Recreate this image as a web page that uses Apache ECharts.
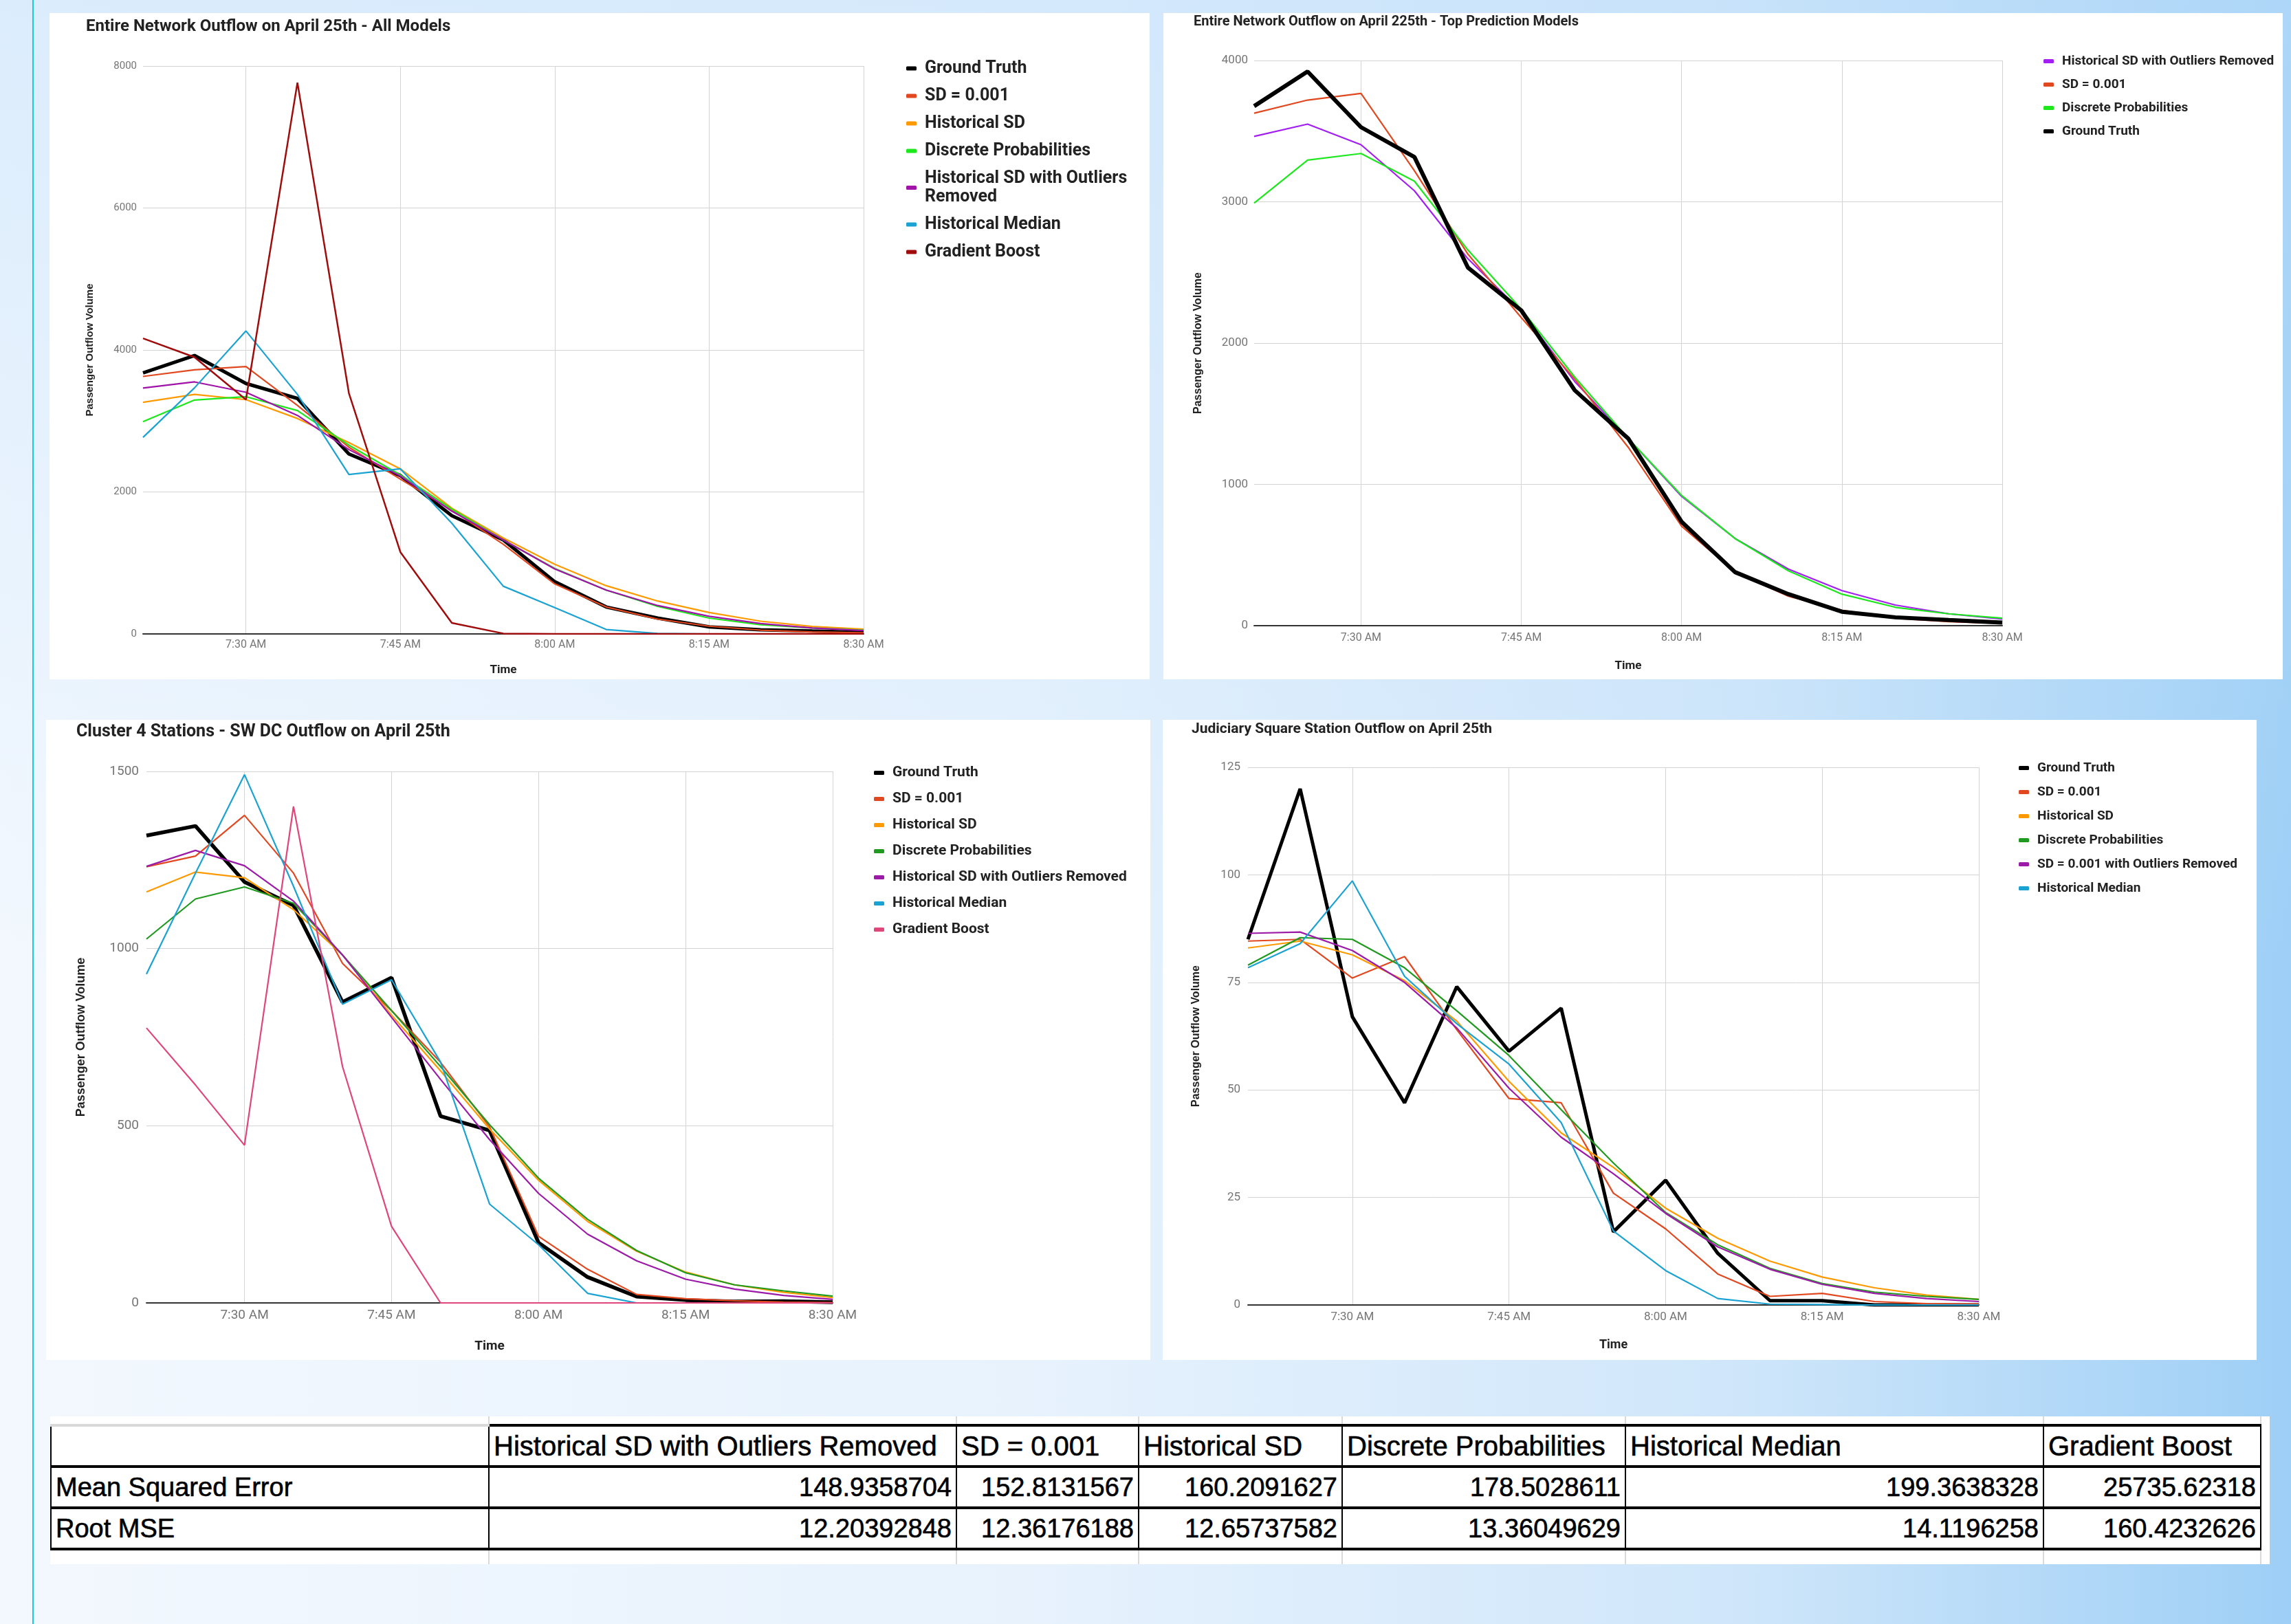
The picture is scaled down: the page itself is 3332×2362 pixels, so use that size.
<!DOCTYPE html>
<html>
<head>
<meta charset="utf-8">
<title>Outflow predictions - April 25th</title>
<script src="https://cdn.jsdelivr.net/npm/echarts@6/dist/echarts.min.js"></script>
<style>
  html, body { margin: 0; padding: 0; }
  body {
    width: 3332px; height: 2362px; overflow: hidden; position: relative;
    background-image:
      linear-gradient(180deg, rgba(190,222,250,0.45) 0%, rgba(190,222,250,0) 60%),
      linear-gradient(90deg, #f3f8fe 0%, #e7f2fd 45%, #cfe6fa 76%, #9ecff6 100%);
  }
  .edge { position: absolute; left: 47px; top: 0; width: 2px; height: 2362px; background: #19ccd9; }
  .panel { position: absolute; background: #fff; }
  #c1 { left: 72px; top: 19px; width: 1600px; height: 969px; }
  #c2 { left: 1692px; top: 19px; width: 1628px; height: 969px; }
  #c3 { left: 67px; top: 1047px; width: 1606px; height: 931px; }
  #c4 { left: 1691px; top: 1047px; width: 1591px; height: 931px; }
  #tbl {
    position: absolute; left: 73px; top: 2060px; width: 3227px;
    border-collapse: collapse; table-layout: fixed; background: #fff;
    font-family: "Liberation Sans", Arial, sans-serif; color: #000;
    -webkit-text-stroke: 0.6px #000;
  }
  #tbl td { padding: 0 6px; white-space: nowrap; overflow: hidden; }
  #tbl tr.sp td { height: 11px; border-right: 2px solid #d9d9d9; }
  #tbl tr.sp2 td { height: 20px; border-right: 2px solid #d9d9d9; }
  #tbl tr.hd td { height: 56px; font-size: 40px; border: 2px solid #000; border-top: 4px solid #000; border-bottom: 4px solid #000; }
  #tbl tr.hd td.first { border-top: 4px solid #d9d9d9; }
  #tbl tr.rw td { height: 56px; font-size: 38px; border: 2px solid #000; border-bottom: 4px solid #000; text-align: right; }
  #tbl tr.rw td.first { text-align: left; }
  #tbl td.blank { border: none !important; border-left: 2px solid #000 !important; }
  #tbl tr.sp td.blank, #tbl tr.sp2 td.blank { border-left: none !important; }
</style>
</head>
<body>
<div class="edge"></div>
<div id="c1" class="panel"></div>
<div id="c2" class="panel"></div>
<div id="c3" class="panel"></div>
<div id="c4" class="panel"></div>
<table id="tbl"></table>

<script>
// time axis, 5 minute steps
var times = ['7:20 AM', '7:25 AM', '7:30 AM', '7:35 AM', '7:40 AM', '7:45 AM', '7:50 AM', '7:55 AM',
             '8:00 AM', '8:05 AM', '8:10 AM', '8:15 AM', '8:20 AM', '8:25 AM', '8:30 AM'];

// entire network
var netGroundTruth = [3677, 3922, 3528, 3317, 2535, 2231, 1666, 1325, 735, 379, 223, 99, 59, 40, 22];
var netSD001 = [3627, 3720, 3767, 3220, 2630, 2180, 1745, 1263, 704, 379, 208, 109, 53, 28, 16];
var netHistSD = [3263, 3374, 3300, 3035, 2695, 2325, 1770, 1351, 981, 679, 463, 302, 179, 105, 68];
var netDiscrete = [2991, 3295, 3342, 3146, 2659, 2240, 1759, 1325, 922, 617, 388, 223, 130, 84, 53];
var netHistSDOut = [3463, 3550, 3404, 3078, 2597, 2225, 1728, 1325, 915, 617, 400, 248, 146, 84, 47];
var netMedian = [2769, 3466, 4268, 3374, 2245, 2325, 1560, 672, 370, 62, 6, 0, 0, 0, 0];
var netBoost = [4163, 3898, 3300, 7766, 3392, 1153, 154, 6, 0, 0, 0, 0, 0, 0, 0];

// cluster 4 - SW DC
var clGroundTruth = [1319, 1346, 1188, 1122, 849, 918, 527, 487, 170, 73, 18, 8, 4, 5, 2];
var clSD001 = [1231, 1261, 1376, 1213, 958, 825, 679, 497, 188, 95, 24, 12, 6, 2, 1];
var clHistSD = [1160, 1216, 1200, 1110, 982, 812, 655, 491, 346, 230, 146, 87, 51, 30, 15];
var clDiscrete = [1027, 1140, 1174, 1128, 982, 825, 667, 503, 352, 236, 148, 85, 51, 34, 19];
var clHistSDOut = [1232, 1277, 1234, 1134, 982, 806, 631, 461, 309, 194, 119, 67, 39, 21, 10];
var clMedian = [928, 1213, 1491, 1176, 843, 912, 680, 279, 164, 27, 0, 0, 0, 0, 0];
var clBoost = [776, 615, 445, 1401, 667, 216, 0, 0, 0, 0, 0, 0, 0, 0, 0];

// judiciary square station
var jsGroundTruth = [85, 120, 67, 47, 74, 59, 69, 17, 29, 12, 1, 1, 0, 0, 0];
var jsSD001 = [84.6, 85, 76, 81, 64, 48, 47, 26, 17.7, 7.2, 2, 2.7, 0.8, 0.3, 0.2];
var jsHistSD = [83, 84.6, 81.4, 75.4, 66, 52, 40, 32, 22.5, 15.5, 10.2, 6.5, 4, 2.3, 1.3];
var jsDiscrete = [79, 85.4, 85, 78.4, 68.4, 58, 45.4, 33, 21.5, 14, 8.5, 5, 3, 2, 1.3];
var jsSDOut = [86.4, 86.7, 82.4, 75, 64.4, 50.4, 39, 30.5, 21.3, 13.5, 8.3, 4.8, 2.7, 1.5, 0.8];
var jsMedian = [78.4, 84, 98.6, 76.4, 65.4, 56, 42.4, 17.2, 8, 1.5, 0.2, 0.1, 0, 0, 0];

// error table
var tableModels = ['Historical SD with Outliers Removed', 'SD = 0.001', 'Historical SD',
                   'Discrete Probabilities', 'Historical Median', 'Gradient Boost'];
var mseValues = ['148.9358704', '152.8131567', '160.2091627', '178.5028611', '199.3638328', '25735.62318'];
var rmseValues = ['12.20392848', '12.36176188', '12.65737582', '13.36049629', '14.1196258', '160.4232626'];

var FONT = 'Roboto, "Noto Sans", sans-serif';

// labels and vertical grid lines only on the quarter hours
function quarterHour(index) {
    return (index - 2) % 3 === 0;
}

function buildChart(id, cfg) {
    var chart = echarts.init(document.getElementById(id));
    var series = cfg.series.map(function (s) {
        return {
            name: s.name,
            type: 'line',
            data: s.data,
            showSymbol: false,
            symbol: 'none',
            color: s.color,
            lineStyle: { color: s.color, width: s.width || 2.2 },
            emphasis: { disabled: true }
        };
    });
    var option = {
        animation: false,
        title: {
            text: cfg.title,
            left: cfg.titlePos[0],
            top: cfg.titlePos[1],
            padding: 0,
            textStyle: { fontFamily: FONT, fontSize: cfg.titleSize, fontWeight: 'bold', color: '#222' }
        },
        legend: {
            orient: 'vertical',
            left: cfg.legendPos[0],
            top: cfg.legendPos[1],
            padding: 0,
            icon: 'roundRect',
            itemWidth: 15,
            itemHeight: 6,
            itemGap: cfg.legendGap,
            selectedMode: false,
            data: cfg.series.map(function (s) { return s.name; }),
            formatter: cfg.legendFormatter,
            textStyle: {
                fontFamily: FONT, fontSize: cfg.legendSize, fontWeight: 'bold', color: '#222',
                lineHeight: cfg.legendLine, padding: [0, 0, 0, 7]
            }
        },
        grid: cfg.grid,
        xAxis: {
            type: 'category',
            data: times,
            boundaryGap: false,
            name: 'Time',
            nameLocation: 'middle',
            nameGap: cfg.xNameGap,
            nameTextStyle: { fontFamily: FONT, fontSize: cfg.xNameSize, fontWeight: 'bold', color: '#222' },
            axisTick: { show: false },
            axisLine: { lineStyle: { color: '#333', width: 2 } },
            axisLabel: { interval: quarterHour, color: '#757575', fontFamily: FONT, fontSize: cfg.xLabelSize, margin: cfg.xLabelMargin },
            splitLine: { show: true, interval: quarterHour, lineStyle: { color: '#d4d4d4', width: 1 } }
        },
        yAxis: {
            type: 'value',
            min: 0,
            max: cfg.yMax,
            interval: cfg.yStep,
            name: 'Passenger Outflow Volume',
            nameLocation: 'middle',
            nameGap: cfg.yNameGap,
            nameTextStyle: { fontFamily: '"Liberation Sans", Arial, sans-serif', fontSize: cfg.yNameSize, fontWeight: 'bold', color: '#222' },
            axisLine: { show: false },
            axisTick: { show: false },
            axisLabel: {
                color: '#757575', fontFamily: FONT, fontSize: cfg.yLabelSize, margin: cfg.yLabelMargin,
                formatter: function (v) { return String(v); }
            },
            splitLine: { lineStyle: { color: '#d4d4d4', width: 1 } }
        },
        series: series
    };
    chart.setOption(option);
    return chart;
}

buildChart('c1', {
    title: 'Entire Network Outflow on April 25th - All Models',
    titlePos: [53, 8], titleSize: 24,
    legendPos: [1246, 67], legendGap: 13, legendSize: 25, legendLine: 27,
    legendFormatter: function (name) {
        return name === 'Historical SD with Outliers Removed' ? 'Historical SD with Outliers\nRemoved' : name;
    },
    grid: { left: 136, top: 77, width: 1048, height: 827 },
    xNameGap: 44, xNameSize: 17, xLabelSize: 16, xLabelMargin: 8,
    yMax: 8000, yStep: 2000, yNameGap: 70, yNameSize: 15, yLabelSize: 15, yLabelMargin: 9,
    series: [
        { name: 'Ground Truth', data: netGroundTruth, color: '#000000', width: 5 },
        { name: 'SD = 0.001', data: netSD001, color: '#e2481f' },
        { name: 'Historical SD', data: netHistSD, color: '#ff9900' },
        { name: 'Discrete Probabilities', data: netDiscrete, color: '#1ce81c' },
        { name: 'Historical SD with Outliers Removed', data: netHistSDOut, color: '#a012a8' },
        { name: 'Historical Median', data: netMedian, color: '#1aa2d2' },
        { name: 'Gradient Boost', data: netBoost, color: '#a00c0c', width: 2.5 }
    ]
});

buildChart('c2', {
    title: 'Entire Network Outflow on April 225th - Top Prediction Models',
    titlePos: [44, 3], titleSize: 20,
    legendPos: [1280, 59], legendGap: 12, legendSize: 19, legendLine: 22,
    grid: { left: 132, top: 69, width: 1088, height: 822 },
    xNameGap: 50, xNameSize: 17, xLabelSize: 16, xLabelMargin: 10,
    yMax: 4000, yStep: 1000, yNameGap: 73, yNameSize: 16, yLabelSize: 17, yLabelMargin: 9,
    series: [
        { name: 'Historical SD with Outliers Removed', data: netHistSDOut, color: '#a21ef2' },
        { name: 'SD = 0.001', data: netSD001, color: '#e2481f' },
        { name: 'Discrete Probabilities', data: netDiscrete, color: '#1ce81c' },
        { name: 'Ground Truth', data: netGroundTruth, color: '#000000', width: 6 }
    ]
});

buildChart('c3', {
    title: 'Cluster 4 Stations - SW DC Outflow on April 25th',
    titlePos: [44, 5], titleSize: 25,
    legendPos: [1204, 65], legendGap: 14, legendSize: 21, legendLine: 24,
    grid: { left: 146, top: 75, width: 998, height: 773 },
    xNameGap: 54, xNameSize: 19, xLabelSize: 19, xLabelMargin: 9,
    yMax: 1500, yStep: 500, yNameGap: 86, yNameSize: 18, yLabelSize: 19, yLabelMargin: 11,
    series: [
        { name: 'Ground Truth', data: clGroundTruth, color: '#000000', width: 5.5 },
        { name: 'SD = 0.001', data: clSD001, color: '#e2481f' },
        { name: 'Historical SD', data: clHistSD, color: '#ff9900' },
        { name: 'Discrete Probabilities', data: clDiscrete, color: '#1f9a1f' },
        { name: 'Historical SD with Outliers Removed', data: clHistSDOut, color: '#9c1aa8' },
        { name: 'Historical Median', data: clMedian, color: '#1aa2d2' },
        { name: 'Gradient Boost', data: clBoost, color: '#e0457b' }
    ]
});

buildChart('c4', {
    title: 'Judiciary Square Station Outflow on April 25th',
    titlePos: [42, 3], titleSize: 21,
    legendPos: [1245, 59], legendGap: 13, legendSize: 19, legendLine: 22,
    grid: { left: 124, top: 69, width: 1063, height: 782 },
    xNameGap: 49, xNameSize: 18, xLabelSize: 17, xLabelMargin: 9,
    yMax: 125, yStep: 25, yNameGap: 67, yNameSize: 16, yLabelSize: 17, yLabelMargin: 11,
    series: [
        { name: 'Ground Truth', data: jsGroundTruth, color: '#000000', width: 5 },
        { name: 'SD = 0.001', data: jsSD001, color: '#e2481f' },
        { name: 'Historical SD', data: jsHistSD, color: '#ff9900' },
        { name: 'Discrete Probabilities', data: jsDiscrete, color: '#1f9a1f' },
        { name: 'SD = 0.001 with Outliers Removed', data: jsSDOut, color: '#9c1aa8' },
        { name: 'Historical Median', data: jsMedian, color: '#1aa2d2' }
    ]
});

// error table below the charts
(function () {
    var widths = [637, 680, 265, 296, 412, 608, 316, 13];
    var html = '<colgroup>' + widths.map(function (w) { return '<col style="width:' + w + 'px">'; }).join('') + '</colgroup>';
    function spacer(cls) {
        var r = '<tr class="' + cls + '">';
        for (var i = 0; i < 7; i++) r += '<td></td>';
        return r + '<td class="blank"></td></tr>';
    }
    html += spacer('sp');
    html += '<tr class="hd"><td class="first"></td>' +
        tableModels.map(function (m) { return '<td>' + m + '</td>'; }).join('') + '<td class="blank"></td></tr>';
    html += '<tr class="rw"><td class="first">Mean Squared Error</td>' +
        mseValues.map(function (v) { return '<td>' + v + '</td>'; }).join('') + '<td class="blank"></td></tr>';
    html += '<tr class="rw"><td class="first">Root MSE</td>' +
        rmseValues.map(function (v) { return '<td>' + v + '</td>'; }).join('') + '<td class="blank"></td></tr>';
    html += spacer('sp2');
    document.getElementById('tbl').innerHTML = html;
})();
</script>
</body>
</html>
